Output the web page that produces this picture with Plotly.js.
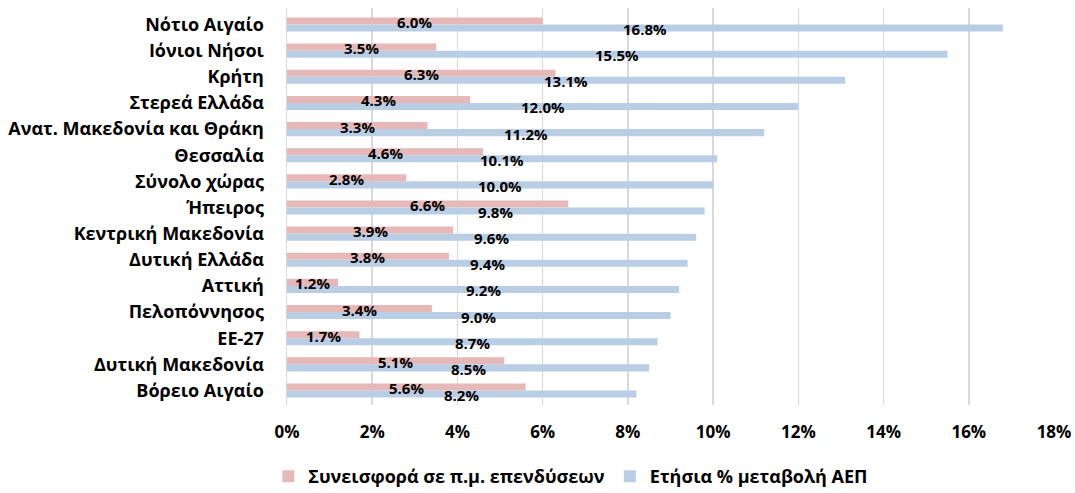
<!DOCTYPE html>
<html>
<head>
<meta charset="utf-8">
<script src="https://cdn.plot.ly/plotly-3.0.1.min.js"></script>
<style>html,body{margin:0;padding:0;background:#fff;}#chart{width:1075px;height:493px;}</style>
</head>
<body>
<div id="chart"></div>
<script>
const regions = ["Νότιο Αιγαίο","Ιόνιοι Νήσοι","Κρήτη","Στερεά Ελλάδα","Ανατ. Μακεδονία και Θράκη","Θεσσαλία","Σύνολο χώρας","Ήπειρος","Κεντρική Μακεδονία","Δυτική Ελλάδα","Αττική","Πελοπόννησος","ΕΕ-27","Δυτική Μακεδονία","Βόρειο Αιγαίο"];
const investContribution = [6.0,3.5,6.3,4.3,3.3,4.6,2.8,6.6,3.9,3.8,1.2,3.4,1.7,5.1,5.6];
const gdpChange = [16.8,15.5,13.1,12.0,11.2,10.1,10.0,9.8,9.6,9.4,9.2,9.0,8.7,8.5,8.2];
const seriesNames = ["Συνεισφορά σε π.μ. επενδύσεων","Ετήσια % μεταβολή ΑΕΠ"];
const tickValues = [0,2,4,6,8,10,12,14,16,18];

const FONT = "'Open Sans','Liberation Sans',Arial,sans-serif";
function fmt(v){return '<b>'+v.toFixed(1)+'%</b>';}
const B = s => '<b>'+s+'</b>';
const BARGAP = 0.46;
const half = (1 - BARGAP) / 4; // centre offset of each bar within a group

const traces = [
  {type:'bar', orientation:'h', name:B(seriesNames[0]), y:regions, x:investContribution,
   marker:{color:'#E6B9B8'}, hoverinfo:'x+y'},
  {type:'bar', orientation:'h', name:B(seriesNames[1]), y:regions, x:gdpChange,
   marker:{color:'#B9CDE5'}, hoverinfo:'x+y'}
];

const annotations = [];
[investContribution, gdpChange].forEach((series, s) => {
  series.forEach((v, i) => {
    annotations.push({xref:'x', yref:'y', x:v/2, y:i + (s === 0 ? -half : half), yshift:-1,
      text:fmt(v), showarrow:false, xanchor:'center', yanchor:'middle',
      font:{family:FONT, size:15, color:'#000'}});
  });
});

const layout = {
  width:1075, height:493,
  margin:{l:287, r:21, t:8, b:88, autoexpand:false},
  barmode:'group', bargap:BARGAP, bargroupgap:0,
  paper_bgcolor:'#fff', plot_bgcolor:'#fff',
  font:{family:FONT, size:15, color:'#000'},
  xaxis:{range:[0,18], tickvals:tickValues, ticktext:tickValues.map(v=>B(v+'%')),
         showgrid:true, gridcolor:'#D9D9D9', gridwidth:1.5, zeroline:false,
         showline:false, ticks:'', ticklabelstandoff:15,
         tickfont:{family:FONT,size:17,color:'#000'}},
  yaxis:{autorange:'reversed', type:'category', tickvals:regions, ticktext:regions.map(B),
         showgrid:false, zeroline:false, showline:true, linecolor:'#D9D9D9', linewidth:1.5,
         ticks:'', ticklabelstandoff:18, tickfont:{family:FONT,size:18,color:'#000'}},
  annotations:annotations,
  showlegend:true,
  legend:{orientation:'h', xref:'container', yref:'paper', x:0.531, xanchor:'center', y:-0.18, yanchor:'middle',
          itemwidth:30, font:{family:FONT,size:18,color:'#000',weight:'bold'}, traceorder:'normal'}
};

Plotly.newPlot('chart', traces, layout, {displayModeBar:false, staticPlot:true});
</script>
</body>
</html>
